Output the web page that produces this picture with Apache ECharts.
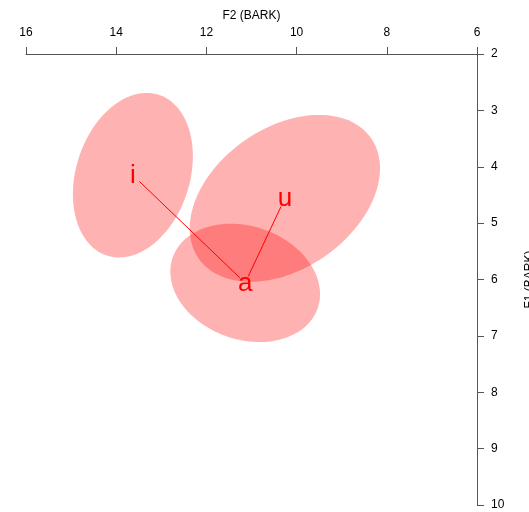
<!DOCTYPE html>
<html>
<head>
<meta charset="utf-8">
<script src="https://cdn.jsdelivr.net/npm/echarts@6/dist/echarts.min.js"></script>
<style>
html,body{margin:0;padding:0;background:#fff;}
#chart{width:529px;height:512px;}
</style>
</head>
<body>
<div id="chart"></div>
<script>
// Vowel data (Bark scale)
const vowels = ['i', 'u', 'a'];
const f2Means = [13.63, 10.26, 11.14];
const f1Means = [4.15, 4.56, 6.06];
// half-extent of each ellipse along F2 and F1, and F2/F1 correlation
const f2Spread = [1.33, 2.11, 1.66];
const f1Spread = [1.46, 1.48, 1.05];
const corr = [0.23, 0.36, -0.19];
// trajectories drawn between vowel means
const links = [['i', 'a'], ['u', 'a']];
// axis ticks
const f2Ticks = [16, 14, 12, 10, 8, 6];
const f1Ticks = [2, 3, 4, 5, 6, 7, 8, 9, 10];

const FONT = '"Liberation Sans", Arial, Helvetica, sans-serif';
const AXIS_COLOR = '#555';
const RED = '#ff0000';

const points = vowels.map((v, k) => [f2Means[k], f1Means[k]]);

const chart = echarts.init(document.getElementById('chart'), null, {renderer: 'canvas'});

const option = {
  animation: false,
  backgroundColor: '#fff',
  grid: {left: 26, right: 52, top: 54, bottom: 7, containLabel: false, outerBoundsMode: 'none'},
  xAxis: {
    type: 'value', position: 'top', inverse: true,
    min: Math.min(...f2Ticks), max: Math.max(...f2Ticks), interval: 2,
    name: 'F2 (BARK)', nameLocation: 'middle', nameGap: 37,
    nameTextStyle: {fontFamily: FONT, fontSize: 12, color: '#000', verticalAlign: 'middle'},
    axisLine: {show: true, onZero: false, lineStyle: {color: AXIS_COLOR, width: 1}},
    axisTick: {show: true, inside: false, length: 7, lineStyle: {color: AXIS_COLOR, width: 1}},
    axisLabel: {fontFamily: FONT, fontSize: 12, color: '#000', margin: 15},
    splitLine: {show: false}
  },
  yAxis: {
    type: 'value', position: 'right', inverse: true,
    min: Math.min(...f1Ticks), max: Math.max(...f1Ticks), interval: 1,
    name: 'F1 (BARK)', nameLocation: 'middle', nameGap: 53,
    nameTextStyle: {fontFamily: FONT, fontSize: 12, color: '#000', verticalAlign: 'middle'},
    axisLine: {show: true, onZero: false, lineStyle: {color: AXIS_COLOR, width: 1}},
    axisTick: {show: true, inside: false, length: 7, lineStyle: {color: AXIS_COLOR, width: 1}},
    axisLabel: {fontFamily: FONT, fontSize: 12, color: '#000', margin: 14},
    splitLine: {show: false}
  },
  series: [
    {
      type: 'custom',
      name: 'ellipses',
      data: points,
      clip: false,
      z: 1,
      renderItem: function (params, api) {
        const k = params.dataIndex;
        const cx = f2Means[k], cy = f1Means[k];
        const sx = f2Spread[k], sy = f1Spread[k], r = corr[k];
        const q = Math.sqrt(1 - r * r);
        const pts = [];
        const N = 120;
        for (let j = 0; j < N; j++) {
          const t = 2 * Math.PI * j / N;
          const x = cx + sx * Math.cos(t);
          const y = cy + sy * (r * Math.cos(t) + q * Math.sin(t));
          pts.push(api.coord([x, y]));
        }
        return {
          type: 'polygon',
          shape: {points: pts},
          style: {fill: 'rgba(255,0,0,0.3)', stroke: null}
        };
      }
    },
    {
      type: 'custom',
      name: 'links',
      data: links.map(l => [vowels.indexOf(l[0]), vowels.indexOf(l[1])]),
      clip: false,
      z: 3,
      renderItem: function (params, api) {
        const l = links[params.dataIndex];
        const a = vowels.indexOf(l[0]), b = vowels.indexOf(l[1]);
        const p1 = api.coord(points[a]);
        const p2 = api.coord(points[b]);
        const dx = p2[0] - p1[0], dy = p2[1] - p1[1];
        const len = Math.sqrt(dx * dx + dy * dy);
        const g1 = 9, g2 = 7;
        return {
          type: 'line',
          shape: {
            x1: p1[0] + dx * g1 / len, y1: p1[1] + dy * g1 / len,
            x2: p2[0] - dx * g2 / len, y2: p2[1] - dy * g2 / len
          },
          style: {stroke: RED, lineWidth: 1}
        };
      }
    },
    {
      type: 'custom',
      name: 'labels',
      data: points,
      clip: false,
      z: 4,
      renderItem: function (params, api) {
        const k = params.dataIndex;
        const p = api.coord(points[k]);
        return {
          type: 'text',
          style: {
            text: vowels[k], x: p[0], y: p[1] + 1,
            fill: RED, font: '26px ' + FONT,
            align: 'center', verticalAlign: 'middle'
          }
        };
      }
    }
  ]
};
chart.setOption(option);
</script>
</body>
</html>
